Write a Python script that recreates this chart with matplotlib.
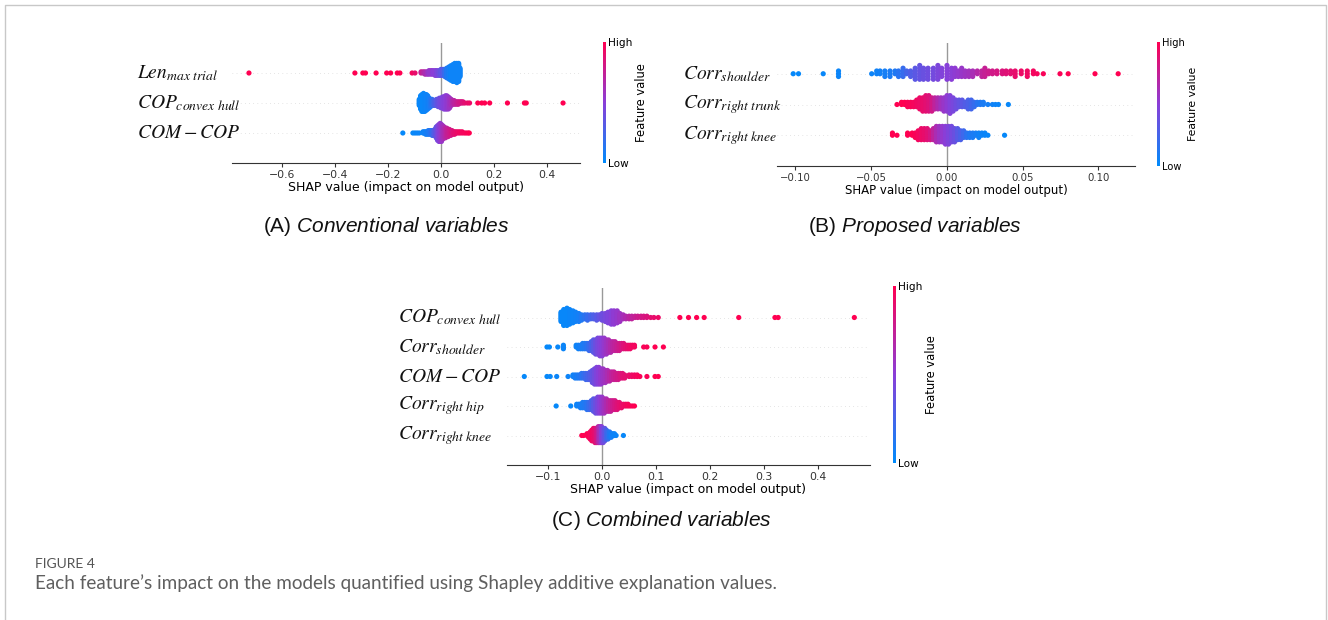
import numpy as np
import matplotlib.pyplot as plt
from matplotlib.colors import LinearSegmentedColormap, Normalize
from matplotlib.cm import ScalarMappable
from matplotlib.lines import Line2D

plt.rcParams['mathtext.fontset'] = 'custom'
plt.rcParams['mathtext.rm'] = 'Liberation Sans'
plt.rcParams['mathtext.it'] = 'Liberation Sans:italic'

W, H = 1328, 620

# --- data: SHAP value columns, points per column, feature value (0 = low, 1 = high) ---

# (A) conventional variables
a_len_x = [-0.725, -0.325, -0.295, -0.285, -0.245, -0.205, -0.19, -0.165, -0.155, -0.109, -0.098,
           -0.075, -0.067, -0.06, -0.052, -0.045, -0.037, -0.03, -0.022, -0.015, -0.007, 0.0,
           0.008, 0.015, 0.022, 0.03, 0.037, 0.045, 0.052, 0.06, 0.067, 0.072]
a_len_n = [1, 1, 1, 1, 1, 1, 1, 1, 1, 1, 1,
           2, 2, 3, 3, 4, 4, 4, 5, 5, 5, 6, 6, 7, 9, 11, 13, 15, 16, 17, 16, 8]
a_len_v = [1, 1, 1, 1, 1, 1, 1, 1, 1, 0.95, 0.9,
           0.75, 0.7, 0.65, 0.6, 0.55, 0.55, 0.5, 0.5, 0.45, 0.4, 0.35, 0.3, 0.2, 0.12, 0.08,
           0.05, 0.05, 0.05, 0.05, 0.05, 0.05]

a_cop_x = [-0.082, -0.077, -0.072, -0.066, -0.061, -0.055, -0.05, -0.044, -0.039, -0.033,
           -0.028, -0.022, -0.017, -0.011, -0.006, 0.0, 0.006, 0.011, 0.017, 0.022,
           0.028, 0.033, 0.039, 0.044, 0.05, 0.055, 0.061, 0.066, 0.072, 0.077,
           0.083, 0.09, 0.1, 0.108, 0.139, 0.154, 0.165, 0.184, 0.251, 0.315, 0.322, 0.461]
a_cop_n = [6, 12, 15, 16, 15, 14, 12, 9, 7, 6,
           5, 5, 6, 7, 8, 9, 10, 11, 12, 12,
           11, 9, 6, 4, 4, 3, 3, 3, 2, 2,
           2, 1, 1, 1, 1, 1, 1, 1, 1, 1, 1, 1]
a_cop_v = [0.03, 0.03, 0.03, 0.03, 0.04, 0.05, 0.06, 0.08, 0.12, 0.18,
           0.22, 0.28, 0.32, 0.36, 0.4, 0.43, 0.46, 0.48, 0.5, 0.52,
           0.55, 0.58, 0.62, 0.66, 0.7, 0.72, 0.75, 0.78, 0.8, 0.82,
           0.84, 0.88, 0.9, 0.92, 1, 1, 1, 1, 1, 1, 1, 1]

a_com_x = [-0.144, -0.106, -0.098, -0.09, -0.082,
           -0.068, -0.063, -0.058, -0.053, -0.048, -0.043, -0.038, -0.033, -0.028, -0.023,
           -0.018, -0.013, -0.008, -0.003, 0.002, 0.007, 0.012, 0.017, 0.022, 0.027,
           0.032, 0.037, 0.042, 0.047, 0.052,
           0.058, 0.065, 0.072, 0.08, 0.088, 0.095, 0.102, 0.107]
a_com_n = [1, 1, 1, 1, 1,
           2, 2, 3, 3, 4, 4, 4, 5, 5, 6,
           10, 13, 15, 16, 15, 12, 10, 9, 8, 7,
           6, 5, 4, 3, 3,
           2, 2, 2, 2, 1, 1, 1, 1]
a_com_v = [0.02, 0.03, 0.03, 0.04, 0.04,
           0.05, 0.06, 0.07, 0.08, 0.1, 0.12, 0.15, 0.2, 0.25, 0.3,
           0.36, 0.42, 0.47, 0.52, 0.56, 0.6, 0.64, 0.68, 0.72, 0.75,
           0.78, 0.8, 0.83, 0.86, 0.88,
           0.9, 0.92, 0.94, 0.95, 0.96, 0.97, 0.98, 1.0]

# (B) proposed variables
b_sho_x = [-0.1015, -0.098, -0.0817, -0.0716,
           -0.0497, -0.0464, -0.0442, -0.041, -0.0376, -0.0343,
           -0.032, -0.029, -0.0266, -0.024, -0.021, -0.018, -0.0155, -0.0125, -0.009, -0.006,
           -0.0035, 0.0, 0.003, 0.0053, 0.0075, 0.0097, 0.012, 0.0145, 0.017, 0.02,
           0.023, 0.025, 0.0275, 0.03, 0.033, 0.0365, 0.039, 0.042, 0.045, 0.049,
           0.053, 0.057, 0.0595, 0.0636, 0.0746, 0.08, 0.0977, 0.113]
b_sho_n = [1, 1, 1, 3,
           1, 2, 2, 3, 3, 2,
           3, 4, 2, 3, 5, 6, 5, 5, 5, 6,
           4, 6, 5, 4, 3, 4, 3, 3, 3, 2,
           3, 4, 2, 2, 2, 2, 2, 2, 3, 2,
           3, 2, 1, 1, 1, 1, 1, 1]
b_sho_v = [0.02, 0.02, 0.03, 0.04,
           0.05, 0.06, 0.07, 0.08, 0.1, 0.12,
           0.15, 0.2, 0.25, 0.3, 0.33, 0.36, 0.38, 0.4, 0.42, 0.45,
           0.47, 0.49, 0.5, 0.52, 0.54, 0.56, 0.58, 0.6, 0.63, 0.68,
           0.72, 0.75, 0.77, 0.8, 0.82, 0.84, 0.86, 0.88, 0.9, 0.92,
           0.93, 0.95, 0.96, 0.97, 0.98, 1, 1, 1]

b_trk_x = [-0.033, -0.03, -0.028, -0.026, -0.024, -0.022,
           -0.02, -0.018, -0.016, -0.014, -0.012, -0.01,
           -0.008, -0.006, -0.004, -0.002, 0.0,
           0.002, 0.004, 0.006,
           0.008, 0.01, 0.012, 0.014, 0.016, 0.018,
           0.02, 0.022, 0.024,
           0.027, 0.03, 0.032, 0.034, 0.0405]
b_trk_n = [1, 2, 2, 3, 3, 3,
           4, 6, 7, 8, 8, 7,
           6, 6, 6, 7, 8,
           9, 7, 5,
           4, 4, 3, 5, 5, 3,
           2, 2, 2,
           1, 1, 1, 1, 1]
b_trk_v = [1, 1, 1, 0.98, 0.97, 0.96,
           0.94, 0.92, 0.9, 0.88, 0.85, 0.8,
           0.72, 0.66, 0.6, 0.56, 0.52,
           0.48, 0.44, 0.4,
           0.36, 0.33, 0.3, 0.27, 0.24, 0.2,
           0.15, 0.12, 0.1,
           0.08, 0.06, 0.05, 0.04, 0.03]

b_kne_x = [-0.036, -0.033,
           -0.026, -0.023, -0.021,
           -0.019, -0.017, -0.015, -0.013, -0.011,
           -0.009, -0.007, -0.005, -0.003, -0.001, 0.001, 0.003, 0.005,
           0.007, 0.009, 0.011,
           0.013, 0.015, 0.017, 0.019, 0.021, 0.023, 0.025, 0.027,
           0.038]
b_kne_n = [2, 1,
           2, 2, 3,
           5, 6, 6, 6, 5,
           6, 8, 8, 8, 9, 9, 8, 7,
           6, 5, 4,
           3, 3, 3, 2, 3, 2, 2, 1,
           1]
b_kne_v = [1, 1,
           1, 1, 0.98,
           0.95, 0.92, 0.9, 0.87, 0.82,
           0.72, 0.64, 0.58, 0.54, 0.5, 0.46, 0.42, 0.38,
           0.32, 0.27, 0.22,
           0.16, 0.12, 0.1, 0.08, 0.06, 0.05, 0.04, 0.03,
           0.02]

# (C) combined variables
c_cop_x = [-0.076, -0.071, -0.065, -0.06, -0.054, -0.049, -0.043,
           -0.038, -0.032, -0.027, -0.021, -0.016, -0.01, -0.005,
           0.0, 0.006, 0.011, 0.017, 0.022, 0.028, 0.033, 0.039,
           0.044, 0.05, 0.055, 0.061, 0.066, 0.072, 0.077, 0.083,
           0.09, 0.096, 0.104,
           0.144, 0.16, 0.175, 0.189, 0.253, 0.32, 0.326, 0.467]
c_cop_n = [8, 13, 14, 12, 10, 8, 7,
           5, 4, 5, 4, 4, 5, 4,
           6, 7, 9, 11, 11, 10, 7, 4,
           3, 3, 3, 2, 2, 2, 2, 2,
           1, 1, 1,
           1, 1, 1, 1, 1, 1, 1, 1]
c_cop_v = [0.03, 0.03, 0.03, 0.04, 0.05, 0.06, 0.08,
           0.12, 0.16, 0.2, 0.24, 0.28, 0.32, 0.36,
           0.4, 0.43, 0.46, 0.49, 0.52, 0.55, 0.58, 0.62,
           0.66, 0.7, 0.72, 0.75, 0.78, 0.8, 0.82, 0.84,
           0.88, 0.9, 0.92,
           1, 1, 1, 1, 1, 1, 1, 1]

c_sho_x = [-0.102, -0.0975, -0.082, -0.0716,
           -0.048, -0.044, -0.04, -0.036, -0.032, -0.028, -0.024,
           -0.02, -0.016, -0.012, -0.008, -0.004, 0.0, 0.004, 0.008,
           0.012, 0.016, 0.02, 0.024, 0.028, 0.032, 0.036,
           0.04, 0.044, 0.048, 0.052, 0.056, 0.06,
           0.077, 0.083, 0.098, 0.1135]
c_sho_n = [1, 1, 1, 3,
           2, 3, 3, 4, 4, 4, 5,
           6, 8, 9, 10, 11, 11, 10, 9,
           8, 7, 6, 6, 5, 5, 4,
           4, 3, 3, 3, 2, 2,
           1, 1, 1, 1]
c_sho_v = [0.02, 0.02, 0.03, 0.04,
           0.05, 0.06, 0.08, 0.1, 0.12, 0.15, 0.2,
           0.26, 0.32, 0.38, 0.43, 0.47, 0.5, 0.54, 0.58,
           0.62, 0.66, 0.7, 0.73, 0.76, 0.79, 0.82,
           0.85, 0.88, 0.9, 0.92, 0.94, 0.95,
           0.97, 0.98, 1, 1]

c_com_x = [-0.144, -0.102, -0.096, -0.084,
           -0.063, -0.054,
           -0.05, -0.046, -0.042, -0.038, -0.034, -0.03, -0.026, -0.022,
           -0.018, -0.014, -0.01, -0.006, -0.002, 0.002, 0.006,
           0.01, 0.014, 0.018, 0.022, 0.026, 0.03, 0.034, 0.038, 0.042,
           0.05, 0.055, 0.06, 0.065, 0.07,
           0.083, 0.098, 0.104]
c_com_n = [1, 1, 1, 1,
           1, 2,
           3, 3, 3, 4, 4, 5, 5, 6,
           9, 11, 12, 12, 11, 10, 9,
           8, 7, 6, 6, 5, 5, 4, 4, 3,
           2, 2, 2, 2, 1,
           1, 1, 1]
c_com_v = [0.02, 0.02, 0.03, 0.04,
           0.05, 0.06,
           0.08, 0.1, 0.12, 0.15, 0.18, 0.22, 0.26, 0.3,
           0.36, 0.41, 0.46, 0.5, 0.54, 0.57, 0.6,
           0.64, 0.68, 0.72, 0.75, 0.78, 0.8, 0.83, 0.86, 0.88,
           0.9, 0.92, 0.94, 0.96, 0.97,
           0.98, 1, 1]

c_hip_x = [-0.085, -0.058,
           -0.047, -0.043, -0.04, -0.036, -0.032, -0.028, -0.024, -0.02,
           -0.016, -0.012, -0.008, -0.004, 0.0, 0.004, 0.008,
           0.012, 0.016, 0.02, 0.024, 0.028, 0.032, 0.036,
           0.04, 0.044, 0.048, 0.052, 0.056, 0.06]
c_hip_n = [1, 1,
           2, 2, 3, 4, 4, 5, 5, 6,
           8, 9, 10, 10, 10, 9, 8,
           7, 7, 6, 6, 5, 4, 3,
           2, 2, 2, 1, 1, 1]
c_hip_v = [0.02, 0.03,
           0.05, 0.06, 0.08, 0.1, 0.12, 0.15, 0.2, 0.25,
           0.32, 0.38, 0.44, 0.5, 0.55, 0.6, 0.65,
           0.7, 0.74, 0.78, 0.82, 0.85, 0.88, 0.9,
           0.92, 0.94, 0.96, 0.97, 0.98, 1]

c_kne_x = [-0.0376, -0.034,
           -0.028, -0.025, -0.022, -0.019, -0.016, -0.013, -0.01,
           -0.007, -0.004, -0.001, 0.002, 0.005,
           0.008, 0.011, 0.014, 0.017, 0.02, 0.023, 0.026,
           0.0395]
c_kne_n = [1, 1,
           2, 3, 5, 7, 8, 9, 9,
           10, 10, 10, 9, 8,
           6, 5, 4, 3, 2, 2, 1,
           1]
c_kne_v = [1, 1,
           1, 0.98, 0.96, 0.94, 0.92, 0.88, 0.82,
           0.7, 0.6, 0.5, 0.42, 0.35,
           0.25, 0.18, 0.12, 0.08, 0.06, 0.05, 0.04,
           0.03]

a_labels = [r"$Len_{max\ trial}$", r"$COP_{convex\ hull}$", r"$COM-COP$"]
b_labels = [r"$Corr_{shoulder}$", r"$Corr_{right\ trunk}$", r"$Corr_{right\ knee}$"]
c_labels = [r"$COP_{convex\ hull}$", r"$Corr_{shoulder}$", r"$COM-COP$",
            r"$Corr_{right\ hip}$", r"$Corr_{right\ knee}$"]

a_ticks = [-0.6, -0.4, -0.2, 0.0, 0.2, 0.4]
b_ticks = [-0.10, -0.05, 0.0, 0.05, 0.10]
c_ticks = [-0.1, 0.0, 0.1, 0.2, 0.3, 0.4]

# shap's red_blue map
cmap = LinearSegmentedColormap.from_list("red_blue", ["#008bfb", "#8a3ed8", "#ff0051"])


def rect(l, r, t, b):
    return [l / W, 1 - b / H, (r - l) / W, (b - t) / H]


def stack(counts, row_height=0.4):
    # beeswarm: points of one column alternate above / below the row line
    ys = []
    for n in counts:
        for layer in range(n):
            ys.append(np.ceil(layer / 2) * ((layer % 2) * 2 - 1))
    ys = np.array(ys)
    return ys * 0.9 * (row_height / np.max(ys + 1))


def panel(ax_px, cb_px, labels, rows, xlim, ticks, label_x, k):
    ax = fig.add_axes(rect(*ax_px))
    n = len(rows)
    for i, (xs, cs, vs) in enumerate(rows):
        pos = n - 1 - i
        ax.axhline(pos, color="#cccccc", lw=0.5, dashes=(1, 5), zorder=-1)
        sx = np.repeat(xs, cs)
        sv = np.repeat(vs, cs)
        ys = stack(cs)
        ax.scatter(sx, pos + ys, c=sv, cmap=cmap, vmin=0, vmax=1, s=14, linewidths=0, zorder=3)
        ax.text(label_x, pos, labels[i], transform=ax.get_yaxis_transform(), ha="left",
                va="center", fontsize=14, color="#111111", math_fontfamily="stix")
    ax.axvline(0, color="#999999", lw=1, zorder=-1)
    ax.set_ylim(-1, n)
    ax.set_xlim(*xlim)
    ax.set_yticks([])
    ax.set_xticks(ticks)
    for s in ["top", "right", "left"]:
        ax.spines[s].set_visible(False)
    ax.spines["bottom"].set_color("#333333")
    ax.tick_params(axis="x", labelsize=7.8 * k, colors="#333333", length=3, width=0.8, pad=2)
    ax.set_xlabel("SHAP value (impact on model output)", fontsize=9 * k, labelpad=1)

    cax = fig.add_axes(rect(cb_px[0], cb_px[0] + 2.5, cb_px[1], cb_px[2]))
    cb = fig.colorbar(ScalarMappable(Normalize(0, 1), cmap), cax=cax, ticks=[0, 1])
    cb.set_ticklabels(["Low", "High"])
    cb.outline.set_visible(False)
    cb.ax.tick_params(labelsize=7.6 * k, length=0, pad=2)
    cb.set_label("Feature value", size=8.3 * k, labelpad=2)
    return ax


fig = plt.figure(figsize=(W / 100, H / 100), dpi=100)

panel((232, 580, 43, 163), (603, 42, 163), a_labels,
      [(a_len_x, a_len_n, a_len_v), (a_cop_x, a_cop_n, a_cop_v), (a_com_x, a_com_n, a_com_v)],
      (-0.789, 0.525), a_ticks, -0.273, 1.0)
panel((777, 1135, 43, 166), (1157, 42, 166), b_labels,
      [(b_sho_x, b_sho_n, b_sho_v), (b_trk_x, b_trk_n, b_trk_v), (b_kne_x, b_kne_n, b_kne_v)],
      (-0.1122, 0.1241), b_ticks, -0.263, 0.94)
panel((507, 870, 288, 465), (893, 286, 463), c_labels,
      [(c_cop_x, c_cop_n, c_cop_v), (c_sho_x, c_sho_n, c_sho_v), (c_com_x, c_com_n, c_com_v),
       (c_hip_x, c_hip_n, c_hip_v), (c_kne_x, c_kne_n, c_kne_v)],
      (-0.176, 0.496), c_ticks, -0.300, 1.0)

# sub-captions
sub = dict(ha="center", va="center", fontsize=15, family="Liberation Sans", color="#111111",
           math_fontfamily="custom")
fig.text(386 / W, 1 - 226 / H, r"(A) $\mathit{Conventional\ variables}$", **sub)
fig.text(915 / W, 1 - 226 / H, r"(B) $\mathit{Proposed\ variables}$", **sub)
fig.text(661 / W, 1 - 520 / H, r"(C) $\mathit{Combined\ variables}$", **sub)

# figure caption
fig.text(35 / W, 1 - 564 / H, "FIGURE 4", fontsize=10, family="Lato", color="#555555", va="center")
fig.text(35 / W, 1 - 583 / H,
         "Each feature\u2019s impact on the models quantified using Shapley additive explanation values.",
         fontsize=13.6, family="Lato", color="#5f5f5f", va="center")

# page frame
fig.add_artist(Line2D([4.5 / W, 4.5 / W, 1325.5 / W, 1325.5 / W], [0, 1 - 4.5 / H, 1 - 4.5 / H, 0],
                      color="#c8c8c8", lw=1, transform=fig.transFigure))

fig.savefig("out.png", dpi=100)
